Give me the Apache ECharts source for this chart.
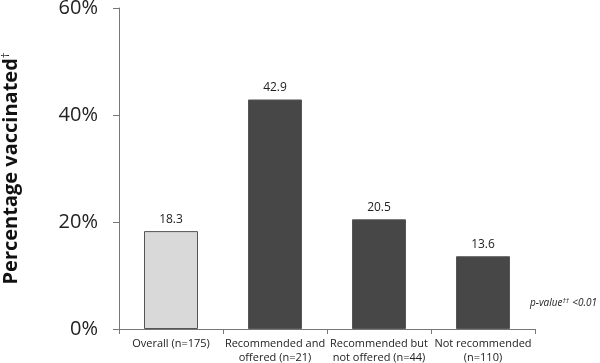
<!DOCTYPE html>
<html><head><meta charset="utf-8">
<script src="https://cdn.jsdelivr.net/npm/echarts@6/dist/echarts.min.js"></script>
<style>html,body{margin:0;padding:0;background:#fff}#c{width:600px;height:363px}</style>
</head><body><div id="c"></div>
<script>
var categories = ['Overall (n=175)', 'Recommended and\noffered (n=21)', 'Recommended but\nnot offered (n=44)', 'Not recommended\n(n=110)'];
var values = [18.3, 42.9, 20.5, 13.6];
var barColors = ['#d9d9d9', '#474747', '#474747', '#474747'];
var yTicks = [0, 20, 40, 60];
var font = '"Open Sans", "Noto Sans", sans-serif';
var chart = echarts.init(document.getElementById('c'));
chart.setOption({
  animation: false,
  grid: {left: 119, right: 65, top: 8, bottom: 34, containLabel: false, outerBoundsMode: 'none'},
  xAxis: {
    type: 'category', data: categories,
    axisLine: {lineStyle: {color: '#777', width: 1}},
    axisTick: {show: true, length: 5, lineStyle: {color: '#777'}},
    axisLabel: {color: '#222', fontSize: 11, fontFamily: font, lineHeight: 14, margin: 8, interval: 0}
  },
  yAxis: {
    type: 'value', min: yTicks[0], max: yTicks[yTicks.length - 1], interval: 20,
    splitLine: {show: false},
    axisLine: {show: true, lineStyle: {color: '#777'}},
    axisTick: {show: true, length: 6, lineStyle: {color: '#777'}},
    axisLabel: {color: '#222', fontSize: 20, fontFamily: font, margin: 21, formatter: '{value}%'},
    name: '{a|Percentage vaccinated}{s|†}',
    nameLocation: 'middle', nameGap: 96,
    nameTextStyle: {
      rich: {
        a: {fontSize: 20, fontWeight: 'bold', color: '#111', fontFamily: font},
        s: {fontSize: 11, color: '#111', fontFamily: font, verticalAlign: 'top', padding: [0, 0, 12, 0]}
      }
    }
  },
  series: [{
    type: 'bar', barWidth: 54,
    data: values.map(function (v, i) {
      return {value: v, itemStyle: {color: barColors[i], borderColor: '#555', borderWidth: 1}};
    }),
    label: {show: true, position: 'top', distance: 6, color: '#222', fontSize: 12, fontFamily: font,
      formatter: function (p) { return p.value.toFixed(1); }}
  }],
  graphic: [{
    type: 'text', left: 530, top: 297,
    style: {
      text: '{i|p-value}{s|††} {i|<0.01}',
      rich: {
        i: {fontSize: 10, fontStyle: 'italic', fill: '#222', fontFamily: font},
        s: {fontSize: 7, fontStyle: 'italic', fill: '#222', fontFamily: font, verticalAlign: 'top', padding: [0, 0, 6, 0]}
      }
    }
  }]
});
</script></body></html>
